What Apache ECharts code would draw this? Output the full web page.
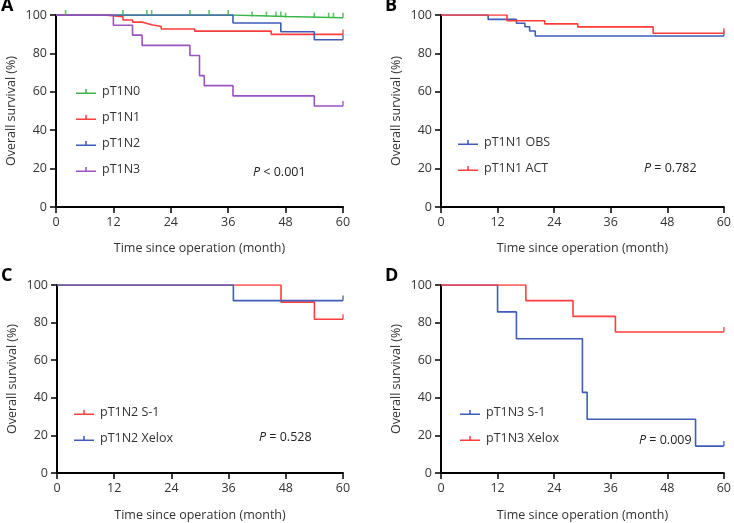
<!DOCTYPE html>
<html><head><meta charset="utf-8">
<script src="https://cdn.jsdelivr.net/npm/echarts@6/dist/echarts.min.js"></script>
<style>html,body{margin:0;padding:0;background:#fff}#c{width:734px;height:523px}</style>
</head><body><div id="c"></div>
<script>
// ---------- data ----------
const xTickStep = 12;   // months
const yTickStep = 20;   // percent

// Panel A
const aN0Time = [0, 37, 48, 60];
const aN0Surv = [100, 99.2, 98.6, 98.6];
const aN0Cens = [2, 14, 19, 20, 28, 32, 36, 41, 44, 46, 47, 48, 54, 57, 58, 60];
const aN1Time = [0, 10, 14, 16, 18, 19, 20, 22, 29, 45, 60];
const aN1Surv = [100, 99.1, 97.4, 96.3, 95.6, 94.9, 94.0, 92.7, 91.6, 89.9, 89.9];
const aN1Cens = [60];
const aN2Time = [0, 37, 47, 54, 60];
const aN2Surv = [100, 95.8, 91.3, 87.1, 87.1];
const aN2Cens = [60];
const aN3Time = [0, 12, 16, 18, 28, 30, 31, 37, 54, 60];
const aN3Surv = [100, 94.7, 89.5, 84.2, 78.9, 68.4, 63.2, 57.9, 52.6, 52.6];
const aN3Cens = [60];

// Panel B
const bObsTime = [0, 10, 16, 17.8, 18.8, 20, 60];
const bObsSurv = [100, 97.7, 95.7, 93.9, 91.7, 89.1, 89.1];
const bObsCens = [60];
const bActTime = [0, 14, 22, 29, 45, 60];
const bActSurv = [100, 97.0, 95.4, 93.8, 90.5, 90.5];
const bActCens = [60];

// Panel C
const cS1Time = [0, 47, 54, 60];
const cS1Surv = [100, 90.9, 81.8, 81.8];
const cS1Cens = [60];
const cXeTime = [0, 37, 60];
const cXeSurv = [100, 91.7, 91.7];
const cXeCens = [60];

// Panel D
const dS1Time = [0, 12, 16, 30, 31, 54, 60];
const dS1Surv = [100, 85.7, 71.4, 42.9, 28.6, 14.3, 14.3];
const dS1Cens = [60];
const dXeTime = [0, 18, 28, 37, 60];
const dXeSurv = [100, 91.7, 83.3, 75.0, 75.0];
const dXeCens = [60];

// ---------- styles ----------
const FONT = 'Open Sans';
const FS = 12.5;
const GREEN = '#3cb54a', RED = '#ff3d3d', BLUE = '#3f5cb8', PURPLE = '#9b52c4';
const legendIcon = 'path://M0,8H40V11H0Z M18.5,1H21.5V8H18.5Z';

function survAt(times, surv, t) {
  let v = surv[0];
  for (let i = 0; i < times.length; i++) if (times[i] <= t) v = surv[i];
  return v;
}
function km(name, times, surv, cens, color, gi) {
  return [{
    name, type: 'line', step: 'end', xAxisIndex: gi, yAxisIndex: gi,
    data: times.map((t, i) => [t, surv[i]]),
    showSymbol: false, symbol: 'none', color,
    lineStyle: { width: 1.6, color }, z: 3
  }, {
    name: name + ' censored', type: 'scatter', xAxisIndex: gi, yAxisIndex: gi,
    data: cens.map(t => [t, survAt(times, surv, t)]),
    symbol: 'rect', symbolSize: [1.6, 5], symbolOffset: [0, -2.5],
    itemStyle: { color }, z: 4
  }];
}

const grids = [
  { left: 56, right: 391, top: 15, height: 192 },
  { left: 441, right: 6, top: 15, height: 192 },
  { left: 57, right: 391, top: 285, height: 190 },
  { left: 441, right: 6, top: 285, height: 190 }
];

function xAx(gi) {
  return {
    gridIndex: gi, type: 'value', min: 0, max: 60, interval: xTickStep,
    axisLine: { show: true, onZero: false, lineStyle: { color: '#000', width: 2 } },
    axisTick: { show: true, length: 6, lineStyle: { color: '#000', width: 1.5 } },
    axisLabel: { fontSize: FS, color: '#333', margin: 9, fontFamily: FONT },
    splitLine: { show: false },
    name: 'Time since operation (month)', nameLocation: 'middle', nameGap: gi < 2 ? 35 : 36,
    nameTextStyle: { fontSize: FS, color: '#333', fontFamily: FONT }
  };
}
function yAx(gi) {
  return {
    gridIndex: gi, type: 'value', min: 0, max: 100, interval: yTickStep,
    axisLine: { show: true, onZero: false, lineStyle: { color: '#000', width: 2 } },
    axisTick: { show: true, length: 6, lineStyle: { color: '#000', width: 1.5 } },
    axisLabel: { fontSize: FS, color: '#333', margin: 9, fontFamily: FONT },
    splitLine: { show: false },
    name: 'Overall survival (%)', nameLocation: 'middle', nameGap: 38,
    nameTextStyle: { fontSize: FS, color: '#333', fontFamily: FONT }
  };
}
function leg(names, left, top) {
  return {
    data: names, left, top, orient: 'vertical', itemGap: 13, padding: 0,
    itemWidth: 20, itemHeight: 6, icon: legendIcon, selectedMode: false,
    textStyle: { fontSize: FS, color: '#333', fontFamily: FONT, padding: [0, 0, 0, 1] }
  };
}
function pText(label, left, top) {
  return {
    type: 'text', left, top,
    style: {
      text: '{i|P} ' + label, fill: '#222', font: FS + 'px "' + FONT + '"',
      rich: { i: { fontStyle: 'italic', fontSize: FS, fontFamily: FONT, fill: '#222' } }
    }
  };
}
function letter(t, left, top) {
  return { type: 'text', left, top, style: { text: t, fill: '#000', font: 'bold 18px "' + FONT + '"' } };
}

const series = [].concat(
  km('pT1N0', aN0Time, aN0Surv, aN0Cens, GREEN, 0),
  km('pT1N1', aN1Time, aN1Surv, aN1Cens, RED, 0),
  km('pT1N2', aN2Time, aN2Surv, aN2Cens, BLUE, 0),
  km('pT1N3', aN3Time, aN3Surv, aN3Cens, PURPLE, 0),
  km('pT1N1 OBS', bObsTime, bObsSurv, bObsCens, BLUE, 1),
  km('pT1N1 ACT', bActTime, bActSurv, bActCens, RED, 1),
  km('pT1N2 S-1', cS1Time, cS1Surv, cS1Cens, RED, 2),
  km('pT1N2 Xelox', cXeTime, cXeSurv, cXeCens, BLUE, 2),
  km('pT1N3 S-1', dS1Time, dS1Surv, dS1Cens, BLUE, 3),
  km('pT1N3 Xelox', dXeTime, dXeSurv, dXeCens, RED, 3)
);

const chart = echarts.init(document.getElementById('c'), null, { renderer: 'canvas' });
chart.setOption({
  animation: false,
  textStyle: { fontFamily: FONT },
  grid: grids,
  xAxis: [0, 1, 2, 3].map(xAx),
  yAxis: [0, 1, 2, 3].map(yAx),
  legend: [
    leg(['pT1N0', 'pT1N1', 'pT1N2', 'pT1N3'], 76, 85),
    leg(['pT1N1 OBS', 'pT1N1 ACT'], 458, 136),
    leg(['pT1N2 S-1', 'pT1N2 Xelox'], 74, 406),
    leg(['pT1N3 S-1', 'pT1N3 Xelox'], 460, 406)
  ],
  graphic: [
    letter('A', 1, -3), letter('B', 385, -3), letter('C', 1, 267), letter('D', 385, 267),
    pText('< 0.001', 253, 166),
    pText('= 0.782', 644, 162),
    pText('= 0.528', 259, 431),
    pText('= 0.009', 639, 434)
  ],
  series
});
</script></body></html>
